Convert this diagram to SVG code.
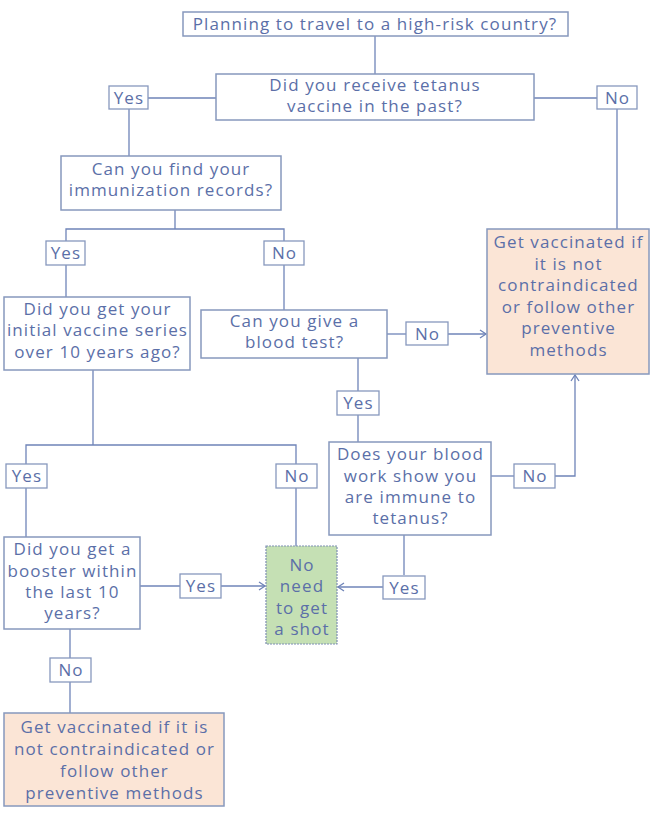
<svg xmlns="http://www.w3.org/2000/svg" width="658" height="820" viewBox="0 0 658 820">
<defs>
<style>
.box{fill:#ffffff;stroke:#8798bd;stroke-width:1.5}
.lbl{fill:#ffffff;stroke:#8798bd;stroke-width:1.3}
.orange{fill:#fbe5d6;stroke:#8798bd;stroke-width:1.5}
.green{fill:#c5e0b4;stroke:#7f8fb3;stroke-width:1.2;stroke-dasharray:2 1}
.c{fill:none;stroke:#6f84b8;stroke-width:1.3}
text{font-family:"Open Sans","Liberation Sans",sans-serif;font-size:17px;letter-spacing:1.1px;fill:#5b6fa8;text-anchor:middle}
</style>
<marker id="arr" markerWidth="10" markerHeight="10" refX="8" refY="5" orient="auto" markerUnits="userSpaceOnUse">
<path d="M2,1 L8,5 L2,9" fill="none" stroke="#6f84b8" stroke-width="1.3"/>
</marker>
</defs>
<g id="connectors">
<path class="c" d="M375,36 V74"/>
<path class="c" d="M216,98 H148 M129,109 V156"/>
<path class="c" d="M534,98 H597 M617,109 V229"/>
<path class="c" d="M175,210 V229 M66,241 V229 H284 V241"/>
<path class="c" d="M66,265 V297"/>
<path class="c" d="M284,265 V310"/>
<path class="c" d="M387,334 H406"/>
<path class="c" d="M448,334 H486" marker-end="url(#arr)"/>
<path class="c" d="M358,358 V391 M358,415 V442"/>
<path class="c" d="M491,476 H514"/>
<path class="c" d="M555,476 H575 V375" marker-end="url(#arr)"/>
<path class="c" d="M404,535 V575"/>
<path class="c" d="M383,587 H338" marker-end="url(#arr)"/>
<path class="c" d="M93,370 V445 M26,464 V445 H296 V464"/>
<path class="c" d="M296,488 V546"/>
<path class="c" d="M26,488 V537"/>
<path class="c" d="M140,586 H180"/>
<path class="c" d="M221,586 H265" marker-end="url(#arr)"/>
<path class="c" d="M70,629 V658 M70,682 V713"/>
</g>
<g id="n_travel"><rect class="box" x="183" y="12" width="385" height="24"/><text x="375" y="29.5">Planning to travel to a high-risk country?</text></g>
<g id="n_tetanus"><rect class="box" x="216" y="74" width="318" height="46"/><text x="375" y="91">Did you receive tetanus</text><text x="375" y="112">vaccine in the past?</text></g>
<g id="l_yes1"><rect class="lbl" x="109" y="86" width="39" height="23"/><text x="129" y="103.5">Yes</text></g>
<g id="l_no1"><rect class="lbl" x="597" y="86" width="40" height="23"/><text x="617.5" y="103.5">No</text></g>
<g id="n_records"><rect class="box" x="61" y="156" width="220" height="54"/><text x="171" y="175">Can you find your</text><text x="171" y="196">immunization records?</text></g>
<g id="l_yes2"><rect class="lbl" x="46" y="241" width="39" height="24"/><text x="66" y="259">Yes</text></g>
<g id="l_no2"><rect class="lbl" x="264" y="241" width="40" height="24"/><text x="284.5" y="259">No</text></g>
<g id="n_initial"><rect class="box" x="4" y="297" width="186" height="73"/><text x="97.5" y="315">Did you get your</text><text x="97.5" y="336">initial vaccine series</text><text x="97.5" y="358">over 10 years ago?</text></g>
<g id="n_blood"><rect class="box" x="201" y="310" width="186" height="48"/><text x="294.5" y="327">Can you give a</text><text x="294.5" y="348">blood test?</text></g>
<g id="l_no3"><rect class="lbl" x="406" y="322" width="42" height="23"/><text x="427.5" y="339.5">No</text></g>
<g id="n_vacc1"><rect class="orange" x="487" y="229" width="162" height="145"/><text x="568.5" y="248">Get vaccinated if</text><text x="568.5" y="270">it is not</text><text x="568.5" y="291">contraindicated</text><text x="568.5" y="313">or follow other</text><text x="568.5" y="334">preventive</text><text x="568.5" y="356">methods</text></g>
<g id="l_yes3"><rect class="lbl" x="337" y="391" width="42" height="24"/><text x="358.5" y="409">Yes</text></g>
<g id="n_immune"><rect class="box" x="329" y="442" width="162" height="93"/><text x="410.5" y="460">Does your blood</text><text x="410.5" y="482">work show you</text><text x="410.5" y="503">are immune to</text><text x="410.5" y="524">tetanus?</text></g>
<g id="l_no4"><rect class="lbl" x="514" y="464" width="41" height="24"/><text x="535" y="482">No</text></g>
<g id="l_yes4"><rect class="lbl" x="383" y="576" width="42" height="23"/><text x="404.5" y="593.5">Yes</text></g>
<g id="l_yes5"><rect class="lbl" x="6" y="464" width="41" height="24"/><text x="27" y="482">Yes</text></g>
<g id="l_no5"><rect class="lbl" x="276" y="464" width="41" height="24"/><text x="297" y="482">No</text></g>
<g id="n_noshot"><rect class="green" x="266" y="546" width="71" height="98"/><text x="302" y="571">No</text><text x="302" y="592">need</text><text x="302" y="614">to get</text><text x="302" y="635">a shot</text></g>
<g id="n_booster"><rect class="box" x="4" y="537" width="136" height="92"/><text x="72.5" y="555">Did you get a</text><text x="72.5" y="577">booster within</text><text x="72.5" y="598">the last 10</text><text x="72.5" y="619">years?</text></g>
<g id="l_yes6"><rect class="lbl" x="180" y="574" width="41" height="24"/><text x="201" y="592">Yes</text></g>
<g id="l_no6"><rect class="lbl" x="50" y="658" width="41" height="24"/><text x="71" y="676">No</text></g>
<g id="n_vacc2"><rect class="orange" x="4" y="713" width="220" height="93"/><text x="114.5" y="733">Get vaccinated if it is</text><text x="114.5" y="755">not contraindicated or</text><text x="114.5" y="777">follow other</text><text x="114.5" y="799">preventive methods</text></g>
</svg>
